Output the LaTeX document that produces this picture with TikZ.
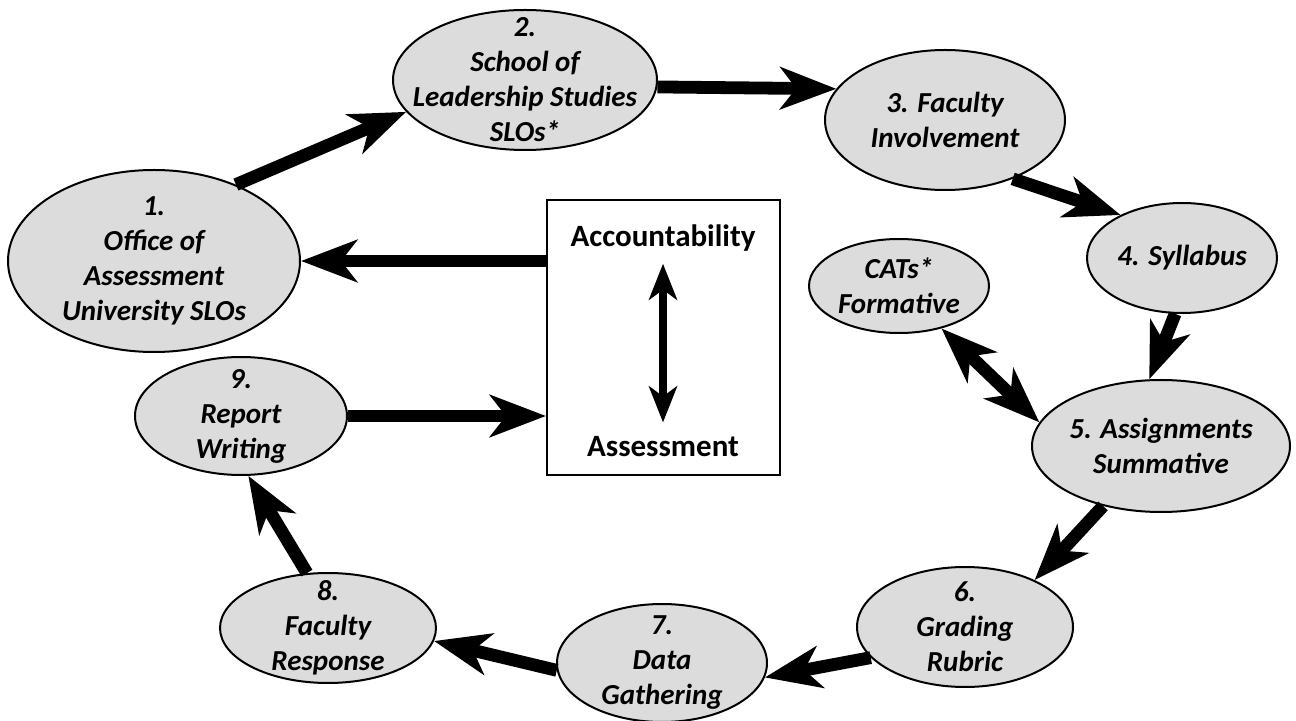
\documentclass[tikz,border=0pt]{standalone}
\usepackage{fontspec}
\setmainfont{Carlito}
\usepackage{tikz}
\usetikzlibrary{arrows.meta, shapes.geometric, positioning}
\definecolor{stagegray}{HTML}{DCDCDD}
\tikzset{
    stage/.style={
      ellipse, draw, %grey disc
      line width=1pt,
      fill=stagegray,
      inner sep=-20pt, %text may run close to the rim
      align=center,
      font=\bfseries\itshape\fontsize{14.5}{17.5}\selectfont,
    },
    flow/.style={
      line width=6.4pt, %fat shaft
      -{Stealth[length=28pt, width=21pt, inset=8pt]},
    },
    twoway/.style={
      line width=6.4pt,
      {Stealth[length=28pt, width=21pt, inset=8pt]}-{Stealth[length=28pt, width=21pt, inset=8pt]},
    },
    boxword/.style={
      inner sep=0pt,
      font=\bfseries\fontsize{15.5}{18}\selectfont,
    }
  }

\begin{document}
\begin{tikzpicture}[x=0.5pt, y=-0.5pt]
          \useasboundingbox (0,0) rectangle (1296,721);
          \node[stage, minimum width=146pt, minimum height=91pt] (s1) at (154,261) {1.\\Office of\\Assessment\\University SLOs};
          \node[stage, minimum width=132pt, minimum height=70pt] (s2) at (525,80) {2.\\School of\\Leadership Studies\\SLOs*};
          \node[stage, minimum width=120pt, minimum height=70pt] (s3) at (945,120) {3. Faculty\\Involvement};
          \node[stage, minimum width=95pt, minimum height=55pt] (s4) at (1182,258) {4. Syllabus};
          \node[stage, minimum width=90pt, minimum height=47pt] (cats) at (899,286) {CATs*\\Formative};
          \node[stage, minimum width=129pt, minimum height=66pt] (s5) at (1161,446) {5. Assignments\\Summative};
          \node[stage, minimum width=108pt, minimum height=60pt] (s6) at (965,627) {6.\\Grading\\Rubric};
          \node[stage, minimum width=105pt, minimum height=59pt] (s7) at (662,663) {7.\\Data\\Gathering};
          \node[stage, minimum width=108pt, minimum height=55pt] (s8) at (328,628) {8.\\Faculty\\Response};
          \node[stage, minimum width=106pt, minimum height=59pt] (s9) at (241,416) {9.\\Report\\Writing};

          \node[draw, line width=1pt, minimum width=116.5pt, minimum height=137.5pt] (box) at (663.5,337.5) {};
          \node[boxword] (acc) at (663,238) {Accountability};
          \node[boxword] (asm) at (663,447) {Assessment};

          \path
          (s1.43) edge [flow] (s2.195)
          (s2.-3) edge [flow] (s3.164)
          (s3.-41) edge [flow] (s4.145)
          (s4.-97) edge [flow] (s5.100)
          (cats.-45) edge [twoway] (s5.169)
          (s5.-134) edge [flow] (s6.34)
          (s6.198) edge [flow] (s7.-8)
          (s7.184) edge [flow] (s8.-7)
          (s8.111) edge [flow] (s9.-83)
          (s9.east) edge [flow] (s9.east -| box.west)
          (box.west |- s1.east) edge [flow] (s1.east);

          \draw[line width=4pt, {Stealth[length=18pt, width=14pt, inset=5pt]}-{Stealth[length=18pt, width=14pt, inset=5pt]},
                shorten <=6pt, shorten >=7pt] (acc.south) -- (asm.north);
        \end{tikzpicture}
\end{document}
